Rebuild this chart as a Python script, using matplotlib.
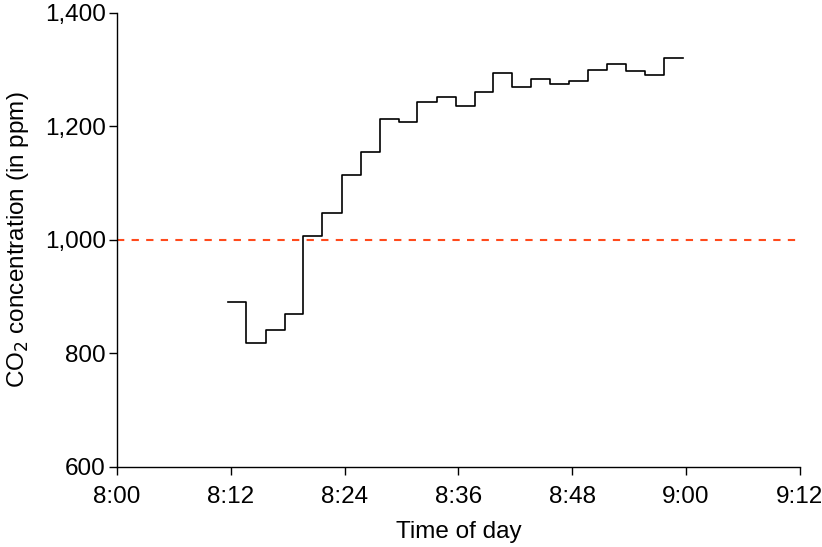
import matplotlib
matplotlib.use("Agg")
from matplotlib import pyplot as plt
from matplotlib.ticker import FuncFormatter

plt.rcParams['font.family'] = ['Liberation Sans', 'DejaVu Sans']

# minutes after 8:00 at which each reading starts (last entry = end of record)
minutes = [11.7, 13.6, 15.7, 17.7, 19.6, 21.6, 23.7, 25.7, 27.7, 29.7, 31.6, 33.7,
           35.7, 37.7, 39.7, 41.7, 43.7, 45.7, 47.7, 49.7, 51.7, 53.7, 55.7, 57.7, 59.7]
co2_ppm = [891, 818, 841, 869, 1007, 1048, 1114, 1155, 1212, 1208, 1243, 1252,
           1235, 1260, 1293, 1269, 1283, 1274, 1280, 1299, 1310, 1297, 1291, 1320, 1320]
threshold = 1000
x_ticks = [0, 12, 24, 36, 48, 60, 72]
x_tick_labels = ['8:00', '8:12', '8:24', '8:36', '8:48', '9:00', '9:12']
y_ticks = [600, 800, 1000, 1200, 1400]

fig = plt.figure(figsize=(8.22, 5.47), dpi=100)
ax = fig.add_axes([0.1423, 0.1463, 0.8307, 0.8305])

ax.plot(minutes, co2_ppm, drawstyle='steps-post', color='black', linewidth=1.2)
ax.axhline(threshold, color='#ff4a1c', linestyle=(0, (3.5, 3.5)), linewidth=1.5)

ax.set_xlim(0, 72)
ax.set_ylim(600, 1400)
ax.set_xticks(x_ticks)
ax.set_xticklabels(x_tick_labels)
ax.set_yticks(y_ticks)
ax.yaxis.set_major_formatter(FuncFormatter(lambda v, p: f'{int(v):,}'))

for side in ['top', 'right']:
    ax.spines[side].set_visible(False)
for side in ['left', 'bottom']:
    ax.spines[side].set_linewidth(1.0)

ax.tick_params(direction='out', length=6, width=1.0, labelsize=17.5)
ax.tick_params(axis='x', pad=8)
ax.tick_params(axis='y', pad=2)
ax.set_xlabel('Time of day', fontsize=17.5, labelpad=9)
ax.set_ylabel('CO$_2$ concentration (in ppm)', fontsize=17.5, labelpad=10)

fig.savefig('out.png', dpi=100)
